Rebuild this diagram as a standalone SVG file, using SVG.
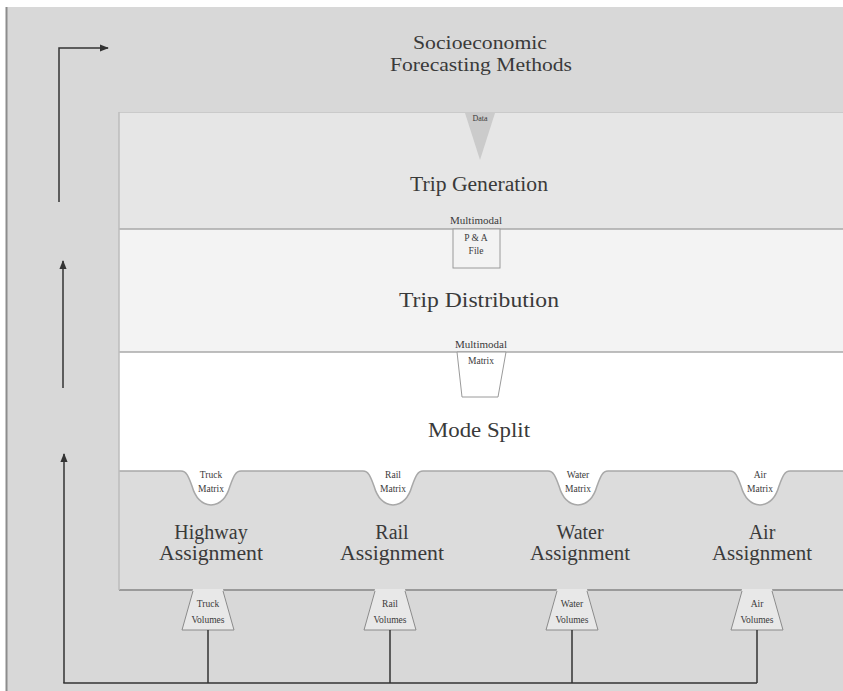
<svg xmlns="http://www.w3.org/2000/svg" width="843" height="691" viewBox="0 0 843 691">
<defs>
<style>
.t{font-family:"Liberation Serif","Times New Roman",serif;fill:#3a3a3a;text-anchor:middle}
.big{font-size:20px}
.ttl{font-size:19px}
.sm{font-size:9.5px}
.xs{font-size:8px}
.ln{stroke:#333;stroke-width:1.5;fill:none}
.edge{stroke:#a8a8a8;stroke-width:1.5;fill:none}
.shape{fill:#ffffff;stroke:#9a9a9a;stroke-width:1}
.vol{fill:none;stroke:#8a8a8a;stroke-width:1}
</style>
<marker id="ah" viewBox="0 0 10 10" refX="9" refY="5" markerWidth="9" markerHeight="9" orient="auto" markerUnits="userSpaceOnUse">
<path d="M0,1 L10,5 L0,9 Z" fill="#333"/>
</marker>
</defs>

<rect x="0" y="0" width="843" height="691" fill="#ffffff"/>
<rect x="7" y="7" width="836" height="684" fill="#d8d8d8"/>
<line x1="6.5" y1="7" x2="6.5" y2="691" stroke="#8c8c8c" stroke-width="2"/>

<g id="socioeconomic">
<text class="t ttl" x="480" y="49" textLength="134" lengthAdjust="spacingAndGlyphs">Socioeconomic</text>
<text class="t ttl" x="481" y="71" textLength="182" lengthAdjust="spacingAndGlyphs">Forecasting Methods</text>
</g>

<g id="trip-generation">
<rect x="119" y="112" width="724" height="117" fill="#e6e6e6"/>
<line x1="119" y1="112.5" x2="843" y2="112.5" stroke="#cacaca" stroke-width="1"/>
<polygon points="465,113 495,113 480,160" fill="#cbcbcb"/>
<text class="t xs" x="480" y="121">Data</text>
<text class="t big" x="479" y="191" textLength="138" lengthAdjust="spacingAndGlyphs">Trip Generation</text>
</g>

<g id="trip-distribution">
<rect x="119" y="229" width="724" height="123" fill="#f3f3f3"/>
<line x1="119" y1="229" x2="843" y2="229" class="edge"/>
<text class="t big" x="479" y="307" textLength="160" lengthAdjust="spacingAndGlyphs">Trip Distribution</text>
</g>

<g id="mode-split">
<rect x="119" y="352" width="724" height="160" fill="#ffffff"/>
<line x1="119" y1="352" x2="843" y2="352" class="edge"/>
<text class="t big" x="479" y="437" textLength="102" lengthAdjust="spacingAndGlyphs">Mode Split</text>
</g>

<g id="pa-file">
<rect x="453" y="229" width="47" height="39" style="fill:#f3f3f3;stroke:#9a9a9a;stroke-width:1"/>
<text class="t sm" x="476" y="224" textLength="52" lengthAdjust="spacingAndGlyphs">Multimodal</text>
<text class="t sm" x="476" y="241">P &amp; A</text>
<text class="t sm" x="476" y="254">File</text>
</g>

<g id="multimodal-matrix">
<polygon points="457,352 506,352 498,397 462,397" class="shape"/>
<text class="t sm" x="481" y="348" textLength="52" lengthAdjust="spacingAndGlyphs">Multimodal</text>
<text class="t sm" x="481" y="364">Matrix</text>
</g>

<g id="assignment-band">
<path d="M119,471 H181 C187,471 189,478 192,486 Q197,504 211,505 Q225,504 230,486 C233,478 235,471 241,471 H363 C369,471 371,478 374,486 Q379,504 393,505 Q407,504 412,486 C415,478 417,471 423,471 H548 C554,471 556,478 559,486 Q564,504 578,505 Q592,504 597,486 C600,478 602,471 608,471 H730 C736,471 738,478 741,486 Q746,504 760,505 Q774,504 779,486 C782,478 784,471 790,471 H843 V590 H119 Z" fill="#dcdcdc"/>
<path d="M119,471 H181 C187,471 189,478 192,486 Q197,504 211,505 Q225,504 230,486 C233,478 235,471 241,471 H363 C369,471 371,478 374,486 Q379,504 393,505 Q407,504 412,486 C415,478 417,471 423,471 H548 C554,471 556,478 559,486 Q564,504 578,505 Q592,504 597,486 C600,478 602,471 608,471 H730 C736,471 738,478 741,486 Q746,504 760,505 Q774,504 779,486 C782,478 784,471 790,471 H843" class="edge"/>
<line x1="119" y1="590" x2="843" y2="590" stroke="#9a9a9a" stroke-width="2"/>
<line x1="119" y1="112" x2="119" y2="590" stroke="#bdbdbd" stroke-width="1.5"/>
</g>

<g id="highway-assignment">
<text class="t sm" x="211" y="478">Truck</text>
<text class="t sm" x="211" y="492">Matrix</text>
<text class="t big" x="211" y="539">Highway</text>
<text class="t big" x="211" y="560" textLength="104" lengthAdjust="spacingAndGlyphs">Assignment</text>
</g>
<g id="rail-assignment">
<text class="t sm" x="393" y="478">Rail</text>
<text class="t sm" x="393" y="492">Matrix</text>
<text class="t big" x="392" y="539">Rail</text>
<text class="t big" x="392" y="560" textLength="104" lengthAdjust="spacingAndGlyphs">Assignment</text>
</g>
<g id="water-assignment">
<text class="t sm" x="578" y="478">Water</text>
<text class="t sm" x="578" y="492">Matrix</text>
<text class="t big" x="580" y="539">Water</text>
<text class="t big" x="580" y="560" textLength="100" lengthAdjust="spacingAndGlyphs">Assignment</text>
</g>
<g id="air-assignment">
<text class="t sm" x="760" y="478">Air</text>
<text class="t sm" x="760" y="492">Matrix</text>
<text class="t big" x="762" y="539">Air</text>
<text class="t big" x="762" y="560" textLength="100" lengthAdjust="spacingAndGlyphs">Assignment</text>
</g>

<g id="truck-volumes">
<polygon points="193,589 223,589 234,630 182,630" fill="#e8e8e8"/>
<polyline points="193,591 182,630 234,630 223,591" class="vol"/>
<text class="t sm" x="208" y="607">Truck</text>
<text class="t sm" x="208" y="623">Volumes</text>
</g>
<g id="rail-volumes">
<polygon points="375,589 405,589 416,630 364,630" fill="#e8e8e8"/>
<polyline points="375,591 364,630 416,630 405,591" class="vol"/>
<text class="t sm" x="390" y="607">Rail</text>
<text class="t sm" x="390" y="623">Volumes</text>
</g>
<g id="water-volumes">
<polygon points="557,589 587,589 598,630 546,630" fill="#e8e8e8"/>
<polyline points="557,591 546,630 598,630 587,591" class="vol"/>
<text class="t sm" x="572" y="607">Water</text>
<text class="t sm" x="572" y="623">Volumes</text>
</g>
<g id="air-volumes">
<polygon points="742,589 772,589 783,630 731,630" fill="#e8e8e8"/>
<polyline points="742,591 731,630 783,630 772,591" class="vol"/>
<text class="t sm" x="757" y="607">Air</text>
<text class="t sm" x="757" y="623">Volumes</text>
</g>

<g id="connectors">
<polyline class="ln" points="59,202 59,48 108,48" marker-end="url(#ah)"/>
<line class="ln" x1="63" y1="388" x2="63" y2="261" marker-end="url(#ah)"/>
<line class="ln" x1="64" y1="683" x2="64" y2="454" marker-end="url(#ah)"/>
<line class="ln" x1="63.25" y1="683" x2="757" y2="683"/>
<line class="ln" x1="208" y1="630" x2="208" y2="683"/>
<line class="ln" x1="390" y1="630" x2="390" y2="683"/>
<line class="ln" x1="572" y1="630" x2="572" y2="683"/>
<line class="ln" x1="757" y1="630" x2="757" y2="683"/>
</g>
</svg>
